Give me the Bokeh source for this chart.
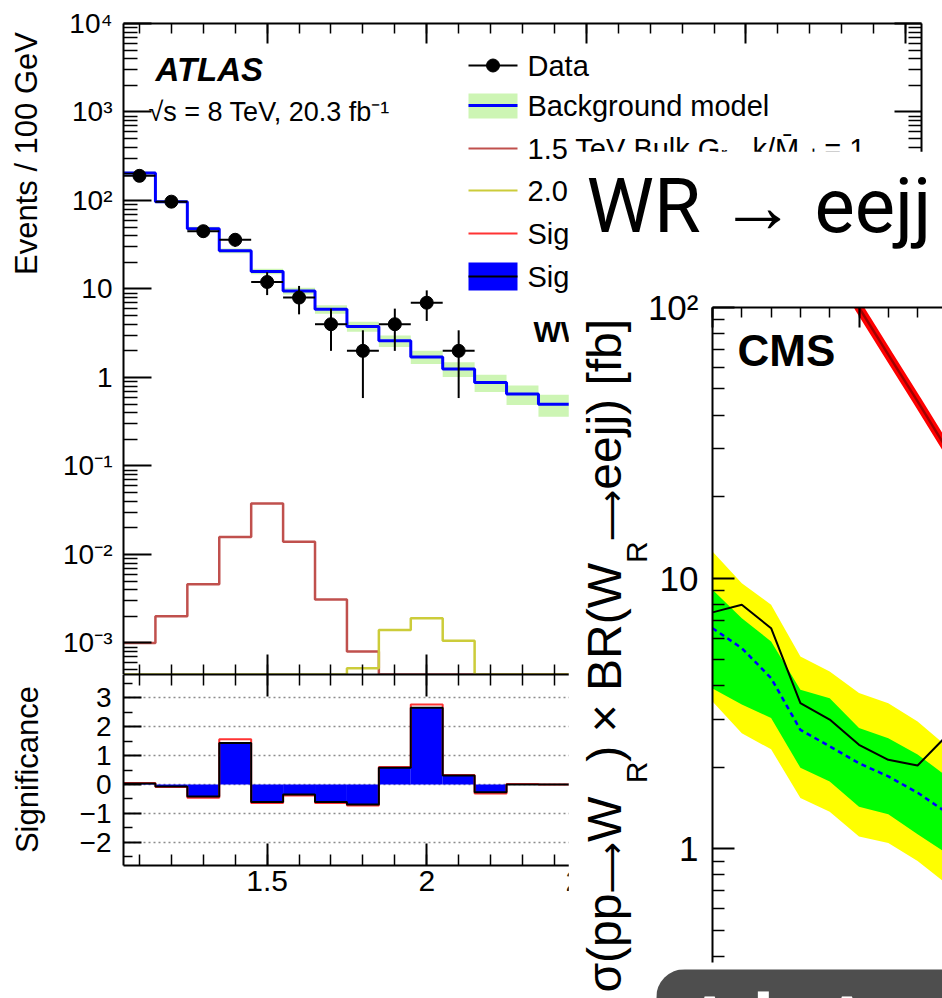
import glob
import math

from bokeh.embed import file_html
from bokeh.models import (CustomJSTickFormatter, FixedTicker, Grid, Label,
                          LinearAxis, LogAxis, Range1d)
from bokeh.plotting import figure
from bokeh.resources import INLINE

# ---------------------------------------------------------------------------
# ATLAS (WW selection): dijet mass spectrum, 100 GeV bins from 1.05 TeV
# ---------------------------------------------------------------------------
mjj_first_edge = 1.05      # TeV
mjj_bin_width = 0.1        # TeV
data_events = [190, 97, 45, 36, 12, 8, 4, 2, 4, 7, 2]
bkg_events = [204, 97, 48, 27, 15.8, 9.5, 5.9, 3.77, 2.6, 1.71, 1.25, 0.88, 0.65, 0.50]
bkg_rel_unc = [0.04, 0.04, 0.05, 0.06, 0.07, 0.09, 0.11, 0.13, 0.15, 0.17, 0.19, 0.22, 0.25, 0.28]
bulk15_events = [1.0e-3, 2.0e-3, 4.6e-3, 0.0158, 0.0377, 0.0139, 3.1e-3, 8.0e-4, 0, 0, 0, 0, 0, 0]
bulk20_events = [0, 0, 0, 0, 0, 0, 0, 5.2e-4, 1.4e-3, 1.9e-3, 1.06e-3, 0, 0, 0]
signif_syst = [0.03, -0.07, -0.42, 1.43, -0.61, -0.35, -0.61, -0.69, 0.58, 2.65, 0.31, -0.27, 0.0, 0.0]
signif_stat = [0.05, -0.09, -0.46, 1.56, -0.64, -0.38, -0.64, -0.73, 0.60, 2.76, 0.33, -0.31, 0.02, 0.0]

atlas_x_major = [1.5, 2.0, 2.5, 3.0, 3.5]
atlas_y_decades = [-3, -2, -1, 0, 1, 2, 3, 4]
signif_ticks = [-2, -1, 0, 1, 2, 3]

legend_texts = ["Data", "Background model",
                "1.5 TeV Bulk G\u1d63\u209b, k/M\u0304\u209a\u2097 = 1",
                "2.0 TeV Bulk G\u1d63\u209b, k/M\u0304\u209a\u2097 = 1",
                "Significance (stat)", "Significance (stat + syst)"]

# ---------------------------------------------------------------------------
# CMS: limits on sigma(pp -> W_R) x BR(W_R -> eejj)
# ---------------------------------------------------------------------------
mwr_gev = [1000, 1100, 1200, 1300, 1400, 1500, 1600, 1700, 1800]
obs_fb = [7.47, 7.97, 6.53, 3.45, 3.00, 2.42, 2.13, 2.03, 2.62]
exp_fb = [6.53, 5.51, 4.27, 2.75, 2.39, 2.07, 1.85, 1.61, 1.36]
exp_up1 = [9.06, 7.11, 5.83, 3.87, 3.60, 2.79, 2.56, 2.23, 1.85]
exp_dn1 = [3.91, 3.41, 3.04, 1.99, 1.77, 1.43, 1.34, 1.13, 0.96]
exp_up2 = [12.55, 9.58, 7.97, 5.13, 4.52, 3.76, 3.45, 2.95, 2.39]
exp_dn2 = [3.50, 2.67, 2.33, 1.54, 1.37, 1.11, 1.05, 0.90, 0.74]
theory_mwr_gev = [1400, 1500, 1600, 1700, 1800]
theory_fb = [152, 100, 67, 45, 30]
cms_y_decades = [0, 1, 2]
cms_x_major = [1000, 1500]

# ---------------------------------------------------------------------------
# page geometry (pixels)
# ---------------------------------------------------------------------------
FONT = "Liberation Sans"
ARROW_FONT = "DejaVu Sans"
PAGE_W, PAGE_H = 942, 998
A_LEFT, A_RIGHT, A_TOP, A_BOT = 123, 921, 23, 674      # upper ATLAS frame
S_BOT = 865                                             # lower ATLAS frame bottom
ATLAS_LOG_YLO = -3.356
C_LEFT, C_TOP, C_BOT = 712, 307, 962                    # CMS frame
BOX_LEFT, BOX_TOP = 568, 151                            # white overlay panel
TAB_LEFT, TAB_TOP = 656, 969                            # dark caption tab

SUP_JS = """
const sup = {"-": "\\u207b", "0": "\\u2070", "1": "\\u00b9", "2": "\\u00b2", "3": "\\u00b3",
             "4": "\\u2074", "5": "\\u2075", "6": "\\u2076", "7": "\\u2077", "8": "\\u2078", "9": "\\u2079"};
const e = Math.round(Math.log10(tick));
if (e === 0) { return "1"; }
if (e === 1) { return "10"; }
return "10" + String(e).split("").map((c) => sup[c]).join("");
"""
MINUS_JS = "return tick < 0 ? '\\u2212' + Math.abs(tick) : String(tick);"
DECIMAL_JS = "return String(Math.round(tick * 10) / 10);"
BLANK_JS = "return '';"


def _find_font(filename):
    for root in ("/usr/share/fonts", "/usr/local/share/fonts"):
        hits = glob.glob(f"{root}/**/{filename}", recursive=True)
        if hits:
            return hits[0]
    return None


FONT_FILES = {FONT: _find_font("LiberationSans-Regular.ttf"),
              ARROW_FONT: _find_font("DejaVuSans.ttf")}


def text_width(text, size, font=FONT):
    path = FONT_FILES.get(font)
    if path:
        try:
            from PIL import ImageFont
            return ImageFont.truetype(path, size).getlength(text)
        except Exception:
            pass
    return (1.5 if font == ARROW_FONT else 0.55) * size * len(text)


def make_figure(width, height, x_range, y_range, y_log=False, **kw):
    p = figure(width=width, height=height, x_range=x_range, y_range=y_range,
               y_axis_type="log" if y_log else "linear",
               x_axis_location=None, y_axis_location=None,
               toolbar_location=None, output_backend="svg", **kw)
    p.grid.visible = False
    p.outline_line_color = None
    return p


def add_axis(p, side, log, ticks, minor, tick_in, minor_in, tick_out=0, minor_out=0,
             code=None, size="28px", standoff=10):
    axis_cls = LogAxis if log else LinearAxis
    ax = axis_cls(ticker=FixedTicker(ticks=ticks, minor_ticks=minor))
    ax.axis_line_width = 2
    ax.axis_line_color = "black"
    ax.major_tick_line_width = 2
    ax.minor_tick_line_width = 1.5
    ax.major_tick_line_color = "black"
    ax.minor_tick_line_color = "black"
    ax.major_tick_in = tick_in
    ax.major_tick_out = tick_out
    ax.minor_tick_in = minor_in
    ax.minor_tick_out = minor_out
    ax.major_label_text_font = FONT
    ax.major_label_text_color = "black"
    if code is None:
        ax.formatter = CustomJSTickFormatter(code=BLANK_JS)
        ax.major_label_text_font_size = "1px"
        ax.major_label_standoff = 0
    else:
        ax.formatter = CustomJSTickFormatter(code=code)
        ax.major_label_text_font_size = size
        ax.major_label_standoff = standoff
    p.add_layout(ax, side)
    return ax


def add_label(p, text, x, y, size, font=FONT, style="normal", color="black",
              align="left", angle=0):
    # y is the vertical centre of the capitals; screen units from the frame's bottom-left
    p.add_layout(Label(x=x, y=y, x_units="screen", y_units="screen", text=text,
                       text_font=font, text_font_size=f"{size}px", text_font_style=style,
                       text_color=color, text_align=align, text_baseline="middle",
                       angle=angle, angle_units="deg"))


def step_xy(edges, vals):
    return list(edges), list(vals) + [vals[-1]]


def place(p, left, top, extra=None):
    st = {"position": "absolute", "left": f"{left}px", "top": f"{top}px"}
    if extra:
        st.update(extra)
    p.styles = st


# bin edges / centres
n_bins = len(bkg_events)
edges = [round(mjj_first_edge + mjj_bin_width * i, 3) for i in range(n_bins + 1)]
centres = [round(mjj_first_edge + mjj_bin_width * (i + 0.5), 3) for i in range(len(data_events))]
x_lo, x_hi = 1.05, 3.55
y_floor = 10 ** ATLAS_LOG_YLO


def px_to_mjj(px):
    return x_lo + (px - A_LEFT) * (x_hi - x_lo) / (A_RIGHT - A_LEFT)


def py_to_events(py):
    frac = (py - A_TOP) / (A_BOT - A_TOP)
    return 10 ** (4 - frac * (4 - ATLAS_LOG_YLO))


x_minor = [round(1.1 + 0.1 * i, 2) for i in range(25)]
y_major = [10.0 ** e for e in atlas_y_decades]
y_minor = [k * 10.0 ** e for e in range(-4, 4) for k in range(2, 10)]

# ---------------------------------------------------------------------------
# ATLAS upper panel
# ---------------------------------------------------------------------------
p1 = make_figure(PAGE_W, A_BOT, Range1d(x_lo, x_hi), Range1d(y_floor, 1e4), y_log=True,
                 min_border_left=A_LEFT, min_border_right=PAGE_W - A_RIGHT,
                 min_border_top=A_TOP, min_border_bottom=0)
p1.background_fill_color = "white"
p1.border_fill_color = "white"

add_axis(p1, "left", True, y_major, y_minor, 28, 14, code=SUP_JS, size="28px", standoff=11)
add_axis(p1, "right", True, y_major, y_minor, 27, 13)
add_axis(p1, "above", False, atlas_x_major, x_minor, 20, 10)

band_lo = [b * (1 - u) for b, u in zip(bkg_events, bkg_rel_unc)]
band_hi = [b * (1 + u) for b, u in zip(bkg_events, bkg_rel_unc)]
p1.quad(left=edges[:-1], right=edges[1:], bottom=band_lo, top=band_hi,
        fill_color="#cdf5b4", line_color=None)

sx, sy = step_xy(edges, [v if v > 0 else y_floor for v in bulk15_events])
p1.step(sx, sy, mode="after", line_color="#c0504d", line_width=2.5)
sx, sy = step_xy(edges, [v if v > 0 else y_floor for v in bulk20_events])
p1.step(sx, sy, mode="after", line_color="#cccc3a", line_width=2.5)
sx, sy = step_xy(edges, bkg_events)
p1.step(sx, sy, mode="after", line_color="#0000ff", line_width=3)

err = [math.sqrt(n) for n in data_events]
p1.segment(x0=centres, x1=centres, y0=[n - e for n, e in zip(data_events, err)],
           y1=[n + e for n, e in zip(data_events, err)], line_color="black", line_width=2)
p1.segment(x0=edges[:len(data_events)], x1=edges[1:len(data_events) + 1],
           y0=data_events, y1=data_events, line_color="black", line_width=2)
p1.scatter(centres, data_events, size=13, color="black")

# legend (symbols drawn in the panel's own coordinates)
leg_rows = [65, 105, 148, 190, 233, 276]
lx0, lx1 = px_to_mjj(468), px_to_mjj(517)
lxm = px_to_mjj(492.5)
p1.segment(x0=[lx0], x1=[lx1], y0=[py_to_events(leg_rows[0])], y1=[py_to_events(leg_rows[0])],
           line_color="black", line_width=2)
p1.scatter([lxm], [py_to_events(leg_rows[0])], size=13, color="black")
p1.quad(left=[lx0], right=[lx1], bottom=[py_to_events(118)], top=[py_to_events(93)],
        fill_color="#cdf5b4", line_color=None)
p1.segment(x0=[lx0], x1=[lx1], y0=[py_to_events(leg_rows[1])], y1=[py_to_events(leg_rows[1])],
           line_color="#0000ff", line_width=3)
for row, colour in zip(leg_rows[2:5], ["#c0504d", "#cccc3a", "#ff3333"]):
    p1.segment(x0=[lx0], x1=[lx1], y0=[py_to_events(row)], y1=[py_to_events(row)],
               line_color=colour, line_width=2)
p1.quad(left=[lx0], right=[lx1], bottom=[py_to_events(290)], top=[py_to_events(262)],
        fill_color="#0000ff", line_color=None)
p1.segment(x0=[lx0], x1=[lx1], y0=[py_to_events(leg_rows[5])], y1=[py_to_events(leg_rows[5])],
           line_color="black", line_width=2)
for row, txt in zip(leg_rows, legend_texts):
    add_label(p1, txt, 527 - A_LEFT, A_BOT - row, 29)

add_label(p1, "ATLAS", 155 - A_LEFT, A_BOT - 69, 33, style="bold italic")
add_label(p1, "\u221as = 8 TeV, 20.3 fb\u207b\u00b9", 148 - A_LEFT, A_BOT - 111, 27)
add_label(p1, "WW Selection", 533 - A_LEFT, A_BOT - 331, 29, style="bold")

# ---------------------------------------------------------------------------
# ATLAS significance panel
# ---------------------------------------------------------------------------
S_FIG_TOP = A_BOT - 30
p2 = make_figure(PAGE_W, PAGE_H - S_FIG_TOP, Range1d(x_lo, x_hi), Range1d(-2.8, 3.8),
                 min_border_left=A_LEFT, min_border_right=PAGE_W - A_RIGHT,
                 min_border_top=30, min_border_bottom=PAGE_H - S_BOT)
p2.background_fill_color = "white"
p2.border_fill_color = None
p2.add_layout(Grid(dimension=1, ticker=FixedTicker(ticks=signif_ticks),
                   grid_line_color="#8c8c8c", grid_line_dash="2 3", grid_line_width=1.5))
add_axis(p2, "left", False, signif_ticks, [t + 0.5 for t in range(-3, 4)], 18, 9,
         code=MINUS_JS, size="28px", standoff=12)
add_axis(p2, "right", False, signif_ticks, [t + 0.5 for t in range(-3, 4)], 18, 9)
add_axis(p2, "below", False, atlas_x_major, x_minor, 22, 11, code=DECIMAL_JS,
         size="30px", standoff=5)
add_axis(p2, "above", False, atlas_x_major, x_minor, 22, 11, tick_out=20, minor_out=10)

p2.quad(left=edges[:-1], right=edges[1:], bottom=0, top=signif_syst,
        fill_color="#0000ff", line_color=None)
sx, sy = step_xy(edges, signif_stat)
p2.step(sx, sy, mode="after", line_color="#ff3333", line_width=2)
sx, sy = step_xy(edges, signif_syst)
p2.step(sx, sy, mode="after", line_color="black", line_width=2)
p2.segment(x0=[edges[-1]], x1=[x_hi], y0=[0], y1=[0], line_color="black", line_width=2)

# ---------------------------------------------------------------------------
# white overlay panel with the CMS limit plot
# ---------------------------------------------------------------------------
cms_x_hi = 1000 + (PAGE_W - C_LEFT) / 0.293
cms_y_lo = 10 ** (2 - (C_BOT - C_TOP) / 270.6)
p3 = make_figure(PAGE_W - BOX_LEFT, PAGE_H - BOX_TOP, Range1d(1000, cms_x_hi),
                 Range1d(cms_y_lo, 100), y_log=True,
                 min_border_left=C_LEFT - BOX_LEFT, min_border_top=C_TOP - BOX_TOP,
                 min_border_bottom=PAGE_H - C_BOT, min_border_right=0)
p3.background_fill_color = "white"
p3.border_fill_color = "white"
add_axis(p3, "left", True, [10.0 ** e for e in cms_y_decades],
         [k * 10.0 ** e for e in range(-1, 2) for k in range(2, 10)], 22, 12,
         code=SUP_JS, size="35px", standoff=14)
add_axis(p3, "above", False, cms_x_major, [1000 + 100 * i for i in range(9)], 20, 10)

p3.varea(x=mwr_gev, y1=exp_dn2, y2=exp_up2, fill_color="#ffff00")
p3.varea(x=mwr_gev, y1=exp_dn1, y2=exp_up1, fill_color="#00ff00")
p3.line(mwr_gev, exp_fb, line_color="#0000ff", line_width=2.5, line_dash="5 4")
p3.line(mwr_gev, obs_fb, line_color="black", line_width=2)
p3.line(theory_mwr_gev, theory_fb, line_color="#ff0000", line_width=9)
p3.line(theory_mwr_gev, theory_fb, line_color="#a00000", line_width=2.5)

add_label(p3, "CMS", 737 - C_LEFT, C_BOT - 350, 44, style="bold")

# ---------------------------------------------------------------------------
# dark caption tab in the corner
# ---------------------------------------------------------------------------
p4 = make_figure(PAGE_W - TAB_LEFT, PAGE_H - TAB_TOP, Range1d(0, 1), Range1d(0, 1),
                 min_border=0)
p4.background_fill_color = "#4e4e4e"
p4.border_fill_color = "#4e4e4e"
add_label(p4, "Al A", 670 - TAB_LEFT, PAGE_H - 1040, 120, font="Roboto", color="white")

# ---------------------------------------------------------------------------
# transparent layer for the free-standing titles
# ---------------------------------------------------------------------------
p5 = make_figure(PAGE_W, PAGE_H, Range1d(0, PAGE_W), Range1d(0, PAGE_H), min_border=0)
p5.background_fill_color = None
p5.border_fill_color = None

add_label(p5, "Events / 100 GeV", 26, PAGE_H - 153, 31, align="center", angle=90)
add_label(p5, "Significance", 27, PAGE_H - 769, 31, align="center", angle=90)
add_label(p5, "WR \u2192 eejj", 586, PAGE_H - 205, 76, font="Roboto")

# rotated CMS axis title, assembled so the W_R subscripts sit below the baseline
MAIN, SUB, ARROW = (FONT, 48, 604), (FONT, 30, 636), (ARROW_FONT, 36, 611)
pieces = [("\u03c3(pp", MAIN), ("\u27f6", ARROW), (" W", MAIN), ("R", SUB),
          (") \u00d7 BR(W", MAIN), ("R", SUB), ("\u27f6", ARROW), (" eejj) [fb]", MAIN)]
widths = [text_width(t, size, font) for t, (font, size, _) in pieces]
y_start = 305 + sum(widths)
cum = 0.0
for (txt, (font, size, centre_x)), w in zip(pieces, widths):
    add_label(p5, txt, centre_x, PAGE_H - (y_start - cum), size, font=font, angle=90)
    cum += w

place(p1, 0, 0)
place(p2, 0, S_FIG_TOP)
place(p3, BOX_LEFT, BOX_TOP)
place(p4, TAB_LEFT, TAB_TOP, {"border-top-left-radius": "32px", "overflow": "hidden"})
place(p5, 0, 0, {"pointer-events": "none"})

page = [p1, p2, p3, p4, p5]
open("out.html", "w").write(file_html(page, INLINE))
